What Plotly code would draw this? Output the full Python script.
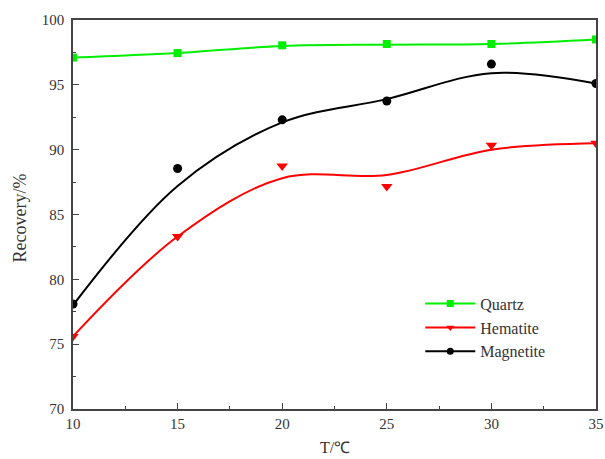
import plotly.graph_objects as go

temperature = [10, 15, 20, 25, 30, 35]

quartz = [97.1, 97.45, 98.05, 98.15, 98.15, 98.5]
hematite = [75.6, 83.3, 88.75, 87.15, 90.35, 90.5]
magnetite = [78.1, 88.55, 92.3, 93.75, 96.6, 95.1]

# fitted curves at the same temperatures
quartz_fit = [97.1, 97.45, 98.0, 98.1, 98.15, 98.5]
hematite_fit = [75.6, 83.3, 87.8, 88.05, 90.0, 90.5]
magnetite_fit = [78.0, 87.2, 92.1, 93.9, 95.9, 95.1]

x_title = "T/℃"
y_title = "Recovery/%"

series = [
    ("Quartz", quartz, quartz_fit, "#00ee00", "square", 8),
    ("Hematite", hematite, hematite_fit, "#ff0000", "triangle-down", 10),
    ("Magnetite", magnetite, magnetite_fit, "#000000", "circle", 9),
]

font_family = "Liberation Serif, Times New Roman, serif"

fig = go.Figure()
for name, vals, fit, color, symbol, size in series:
    fig.add_trace(go.Scatter(
        x=temperature, y=fit, mode="lines",
        line=dict(color=color, width=2, shape="spline", smoothing=1.0),
        showlegend=False, hoverinfo="skip"))
    fig.add_trace(go.Scatter(
        x=temperature, y=vals, mode="markers",
        marker=dict(color=color, symbol=symbol, size=size, line=dict(width=0)),
        showlegend=False, name=name))
    fig.add_trace(go.Scatter(
        x=[None], y=[None], mode="lines+markers", name=name,
        line=dict(color=color, width=2),
        marker=dict(color=color, symbol=symbol, size=7)))

axis_common = dict(
    showgrid=False, zeroline=False, showline=True, mirror=True,
    linecolor="#444444", linewidth=1.5, automargin=False,
    ticks="inside", ticklen=6, tickwidth=1.2, tickcolor="#444444",
    ticklabeloverflow="allow",
    tickfont=dict(family=font_family, size=15, color="#333333"),
)

fig.update_xaxes(
    range=[10, 35], dtick=5, tick0=10,
    minor=dict(ticks="inside", ticklen=3, dtick=2.5, tick0=10, tickcolor="#444444"),
    **axis_common)
fig.update_yaxes(
    range=[70, 100], dtick=5, tick0=70,
    ticklabelstandoff=4,
    minor=dict(ticks="inside", ticklen=3, dtick=2.5, tick0=70, tickcolor="#444444"),
    **axis_common)

fig.add_annotation(
    text=x_title, xref="paper", yref="paper", x=0.5, y=0,
    xanchor="center", yanchor="middle", yshift=-38, showarrow=False,
    font=dict(family=font_family, size=16, color="#333333"))
fig.add_annotation(
    text=y_title, xref="paper", yref="paper", x=0, y=0.49,
    xanchor="center", yanchor="middle", xshift=-53, textangle=-90, showarrow=False,
    font=dict(family=font_family, size=18, color="#333333"))

fig.update_layout(
    width=605, height=459,
    margin=dict(l=73, r=9, t=20, b=50, autoexpand=False),
    paper_bgcolor="white", plot_bgcolor="white",
    showlegend=True,
    legend=dict(x=0.664, y=0.3144, xanchor="left", yanchor="top",
                bgcolor="rgba(0,0,0,0)", borderwidth=0, itemwidth=50,
                font=dict(family=font_family, size=16, color="#333333"),
                tracegroupgap=0),
)

fig.write_html(
    "out.html",
    config={"displayModeBar": False},
    post_script=("document.documentElement.style.overflow='hidden';"
                 "document.body.style.overflow='hidden';"
                 "document.body.style.margin='0';"))
